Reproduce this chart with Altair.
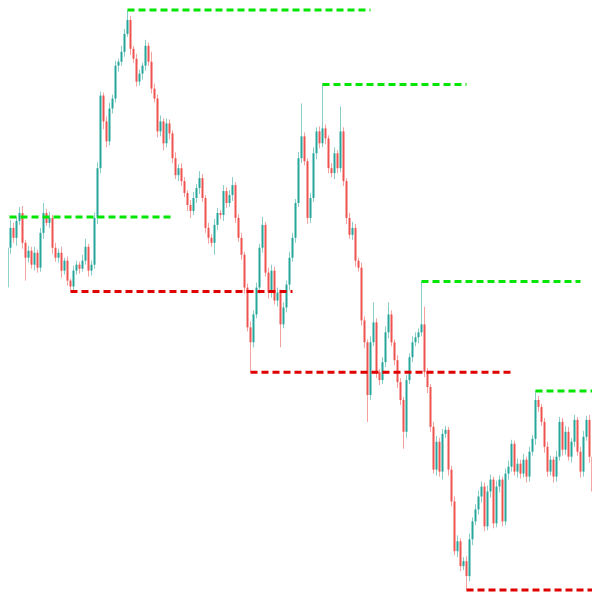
import altair as alt
import pandas as pd

TOP = 600  # prices below are given as distance from the chart top; price = TOP - value

open0 = 345
close_px = [
    305, 285, 245, 225, 235, 218, 210, 240, 255, 248,
    262, 250, 265, 230, 210, 220, 215, 245, 255, 250,
    268, 258, 278, 284, 268, 262, 266, 258, 244, 268,
    262, 215, 165, 92, 118, 138, 105, 95, 62, 58,
    48, 30, 16, 45, 55, 78, 70, 62, 42, 58,
    85, 95, 128, 118, 140, 120, 130, 155, 172, 165,
    178, 190, 202, 208, 195, 185, 175, 195, 225, 235,
    240, 222, 210, 212, 188, 200, 192, 182, 215, 235,
    252, 285, 325, 340, 312, 285, 245, 222, 270, 290,
    268, 298, 290, 322, 305, 282, 255, 235, 200, 155,
    133, 158, 215, 195, 150, 128, 140, 125, 135, 165,
    170, 150, 165, 128, 178, 215, 232, 225, 258, 265,
    318, 340, 393, 340, 320, 370, 378, 360, 330, 312,
    340, 358, 380, 398, 430, 378, 355, 340, 335, 330,
    322, 370, 385, 425, 468, 440, 470, 432, 428, 468,
    500, 550, 540, 565, 560, 575, 538, 520, 508, 495,
    485, 525, 490, 478, 522, 485, 478, 520, 472, 465,
    442, 470, 462, 472, 458, 475, 450, 437, 398, 405,
    420, 445, 470, 458, 475, 455, 420, 448, 430, 455,
    440, 418, 450, 470, 435, 418, 455, 490, 468, 495,
]
upper_wick = [
    3, 4, 6, 8, 5, 4, 6, 7, 3, 5,
    4, 6, 3, 5, 10, 4, 6, 3, 5, 4,
    6, 3, 4, 2, 5, 4, 3, 6, 8, 3,
    4, 5, 6, 4, 3, 5, 6, 4, 5, 3,
    6, 5, 10, 4, 3, 5, 4, 3, 6, 3,
    10, 5, 4, 6, 3, 5, 4, 3, 6, 4,
    5, 4, 3, 5, 6, 4, 7, 4, 3, 5,
    4, 6, 5, 3, 6, 4, 5, 8, 3, 4,
    5, 3, 4, 6, 4, 5, 4, 8, 3, 5,
    6, 4, 5, 3, 5, 4, 6, 5, 4, 6,
    33, 4, 3, 5, 6, 4, 5, 45, 4, 3,
    5, 6, 3, 25, 4, 3, 5, 6, 4, 3,
    5, 4, 3, 6, 20, 4, 3, 5, 6, 12,
    4, 3, 5, 4, 3, 5, 4, 6, 5, 4,
    43, 18, 4, 3, 5, 6, 4, 5, 4, 3,
    4, 5, 6, 3, 4, 5, 6, 4, 5, 6,
    5, 4, 6, 5, 3, 6, 4, 3, 5, 6,
    4, 3, 5, 4, 6, 3, 5, 4, 9, 4,
    3, 4, 5, 4, 3, 6, 5, 4, 6, 5,
    4, 5, 3, 5, 6, 4, 5, 3, 6, 4,
]
lower_wick = [
    2, 5, 4, 6, 5, 8, 4, 6, 23, 5,
    4, 6, 5, 4, 6, 3, 5, 6, 4, 5,
    7, 4, 5, 5, 6, 4, 5, 3, 4, 6,
    5, 4, 6, 5, 8, 6, 4, 5, 4, 6,
    4, 5, 3, 6, 4, 5, 4, 6, 5, 4,
    5, 4, 6, 5, 7, 4, 6, 5, 4, 6,
    5, 4, 6, 7, 4, 5, 6, 4, 5, 6,
    4, 12, 5, 4, 6, 5, 4, 6, 5, 4,
    5, 6, 4, 30, 5, 4, 6, 5, 4, 6,
    5, 4, 6, 23, 4, 5, 6, 4, 5, 4,
    5, 4, 6, 5, 4, 6, 5, 4, 6, 5,
    4, 6, 5, 4, 5, 6, 4, 5, 6, 4,
    5, 6, 27, 5, 4, 6, 5, 4, 5, 6,
    4, 5, 6, 5, 17, 6, 4, 5, 4, 6,
    4, 5, 6, 5, 4, 6, 5, 8, 4, 6,
    5, 4, 6, 5, 4, 14, 5, 6, 4, 5,
    6, 5, 4, 6, 5, 4, 6, 5, 4, 6,
    5, 4, 6, 5, 4, 6, 5, 4, 6, 5,
    4, 6, 5, 4, 6, 5, 4, 6, 5, 4,
    6, 5, 4, 6, 5, 4, 6, 5, 4, 6,
]

# swing levels (distance from top), start / end candle index
high_levels = [214, 6, 81, 279, 389]
high_start = [-1, 42, 107, 140, 178]
high_end = [57, 123, 155, 193, 201]
low_levels = [289, 370, 589]
low_start = [23, 83, 155]
low_end = [97, 170, 201]

rows = []
prev = open0
for i, c in enumerate(close_px):
    o = prev
    top = min(o, c) - upper_wick[i]
    bot = max(o, c) + lower_wick[i]
    rows.append({
        "i": i,
        "open": TOP - o,
        "close": TOP - c,
        "high": TOP - top,
        "low": TOP - bot,
        "dir": "up" if c <= o else "down",
    })
    prev = c
df = pd.DataFrame(rows)

lv = []
for lev, s, e in zip(high_levels, high_start, high_end):
    lv.append({"level": TOP - lev, "s": s, "e": e, "kind": "high"})
for lev, s, e in zip(low_levels, low_start, low_end):
    lv.append({"level": TOP - lev, "s": s, "e": e, "kind": "low"})
lvdf = pd.DataFrame(lv)

xs = alt.Scale(domain=[2.1667, 196.8333], zero=False, nice=False, padding=0)
ys = alt.Scale(domain=[9, 596], zero=False, nice=False, padding=0)
col = alt.Color("dir:N", scale=alt.Scale(domain=["up", "down"], range=["#26a69a", "#ef5350"]), legend=None)

base = alt.Chart(df)
wicks = base.mark_rule(strokeWidth=1, opacity=0.55, clip=True).encode(
    x=alt.X("i:Q", scale=xs, axis=None),
    y=alt.Y("low:Q", scale=ys, axis=None),
    y2="high:Q",
    color=col,
)
bodies = base.mark_bar(size=2, clip=True).encode(
    x=alt.X("i:Q", scale=xs, axis=None),
    y=alt.Y("open:Q", scale=ys, axis=None),
    y2="close:Q",
    color=col,
)
levels = alt.Chart(lvdf).mark_rule(strokeWidth=3, strokeDash=[7, 4], clip=True).encode(
    x=alt.X("s:Q", scale=xs, axis=None),
    x2="e:Q",
    y=alt.Y("level:Q", scale=ys, axis=None),
    color=alt.Color("kind:N", scale=alt.Scale(domain=["high", "low"], range=["#00e600", "#e00000"]), legend=None),
)

chart = alt.layer(wicks, bodies, levels).resolve_scale(color="independent").properties(
    width=584, height=584, padding=0,
    autosize=alt.AutoSizeParams(type="fit", contains="padding"),
).configure_view(stroke=None)

chart.save("out.html", embed_options={"renderer": "svg", "actions": False})
